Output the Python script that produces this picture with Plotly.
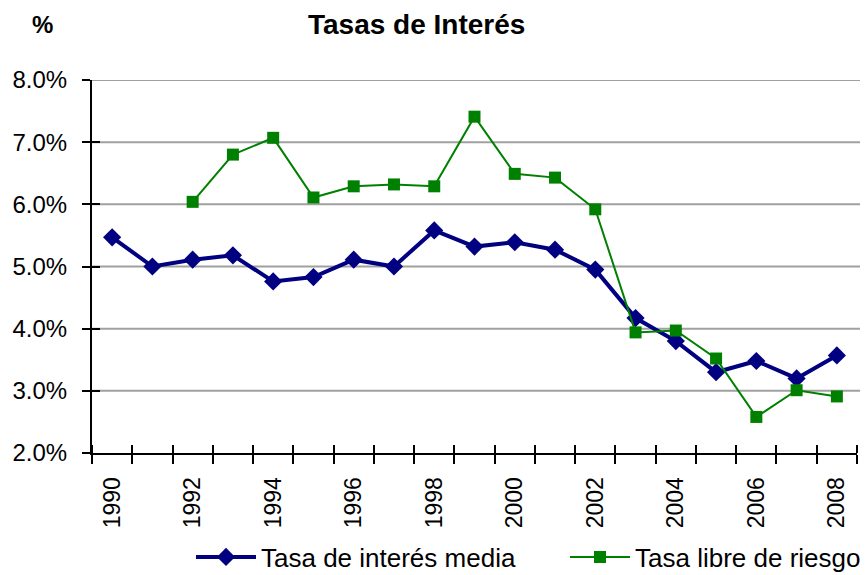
import plotly.graph_objects as go

years = list(range(1990, 2009))
tasa_media = [5.47, 5.00, 5.11, 5.18, 4.76, 4.83, 5.11, 5.00, 5.58, 5.32,
              5.39, 5.27, 4.95, 4.17, 3.80, 3.30, 3.48, 3.20, 3.57]
years_libre = list(range(1992, 2009))
tasa_libre = [6.04, 6.80, 7.07, 6.11, 6.29, 6.32, 6.29, 7.41, 6.49, 6.43,
              5.92, 3.94, 3.97, 3.52, 2.58, 3.01, 2.91]
y_ticks = [2, 3, 4, 5, 6, 7, 8]
x_label_years = list(range(1990, 2009, 2))

FONT = "Liberation Sans, Arial, sans-serif"
W, H = 868, 575
OFF = 8  # page body margin offset
# plot area in screen pixels
SX0, SX1, SY0, SY1 = 92, 857, 80, 453
L = SX0 - OFF
T = SY0 - OFF
R = W - (SX1 - OFF)
B = H - (SY1 - OFF)
PLOT_W = W - L - R
PLOT_H = H - T - B


def px_x(p):
    return (p - OFF - L) / PLOT_W


def px_y(p):
    return (H - B - (p - OFF)) / PLOT_H


fig = go.Figure()
fig.add_trace(go.Scatter(
    x=years, y=tasa_media, name="Tasa de interés media",
    mode="lines+markers", legend="legend",
    line=dict(color="#000080", width=4),
    marker=dict(symbol="diamond", size=14, color="#000080"),
))
fig.add_trace(go.Scatter(
    x=years_libre, y=tasa_libre, name="Tasa libre de riesgo",
    mode="lines+markers", legend="legend2",
    line=dict(color="#008000", width=2),
    marker=dict(symbol="square", size=12, color="#008000"),
))

boundaries = [y - 0.5 for y in years] + [years[-1] + 0.5]

shapes = []
for v in y_ticks[1:]:
    shapes.append(dict(type="line", xref="paper", yref="y", x0=0, x1=px_x(867), y0=v, y1=v,
                       line=dict(color="#a0a0a0", width=2), layer="below"))

legend_common = dict(orientation="h", xanchor="left", yanchor="middle",
                     font=dict(size=26), itemwidth=60, bgcolor="rgba(0,0,0,0)")

fig.update_layout(
    width=W, height=H,
    margin=dict(l=L, r=R, t=T, b=B, autoexpand=False),
    paper_bgcolor="white", plot_bgcolor="white",
    font=dict(family=FONT, size=23, color="black"),
    showlegend=True,
    legend=dict(x=px_x(191), y=px_y(557), **legend_common),
    legend2=dict(x=px_x(565), y=px_y(557), **legend_common),
    shapes=shapes,
    xaxis=dict(
        range=[1989.5, 2008.5], tickmode="array", tickvals=x_label_years,
        ticktext=[str(y) for y in x_label_years], tickangle=-90,
        ticks="", showgrid=False, zeroline=False, automargin=False,
        showline=True, linecolor="black", linewidth=2,
        tickfont=dict(size=23), ticklabelstandoff=13,
        minor=dict(tickmode="array", tickvals=boundaries, ticks="outside",
                   ticklen=9, tickwidth=2, tickcolor="black", showgrid=False),
    ),
    yaxis=dict(
        range=[2, 8], tickmode="array", tickvals=y_ticks,
        ticktext=[f"{v:.1f}%" for v in y_ticks],
        ticks="outside", ticklen=8, tickwidth=2, tickcolor="black",
        showgrid=False, zeroline=False, automargin=False,
        showline=True, linecolor="black", linewidth=2,
        tickfont=dict(size=24), ticklabelstandoff=10,
    ),
    xaxis2=dict(
        overlaying="x", matches="x", range=[1989.5, 2008.5], showticklabels=False,
        showgrid=False, zeroline=False, showline=False, ticks="", automargin=False,
        tickmode="array", tickvals=[],
        minor=dict(tickmode="array", tickvals=boundaries, ticks="inside",
                   ticklen=8, tickwidth=2, tickcolor="black", showgrid=False),
        anchor="y2", side="bottom",
    ),
    yaxis2=dict(
        overlaying="y", range=[2, 8], showticklabels=False, showgrid=False,
        zeroline=False, showline=False, tickmode="array", tickvals=y_ticks,
        ticks="inside", ticklen=8, tickwidth=2, tickcolor="black", automargin=False,
        anchor="x2", side="left",
    ),
    annotations=[
        dict(text="<b>Tasas de Interés</b>", xref="paper", yref="paper",
             x=px_x(416), y=px_y(25), xanchor="center", yanchor="middle",
             showarrow=False, font=dict(size=28)),
        dict(text="<b>%</b>", xref="paper", yref="paper",
             x=px_x(42), y=px_y(25), xanchor="center", yanchor="middle",
             showarrow=False, font=dict(size=24)),
    ],
)
# invisible trace to bind overlay axes
fig.add_trace(go.Scatter(x=[1990], y=[2], xaxis="x2", yaxis="y2", mode="markers",
                         marker=dict(opacity=0), showlegend=False, hoverinfo="skip"))

fig.write_html("out.html")
